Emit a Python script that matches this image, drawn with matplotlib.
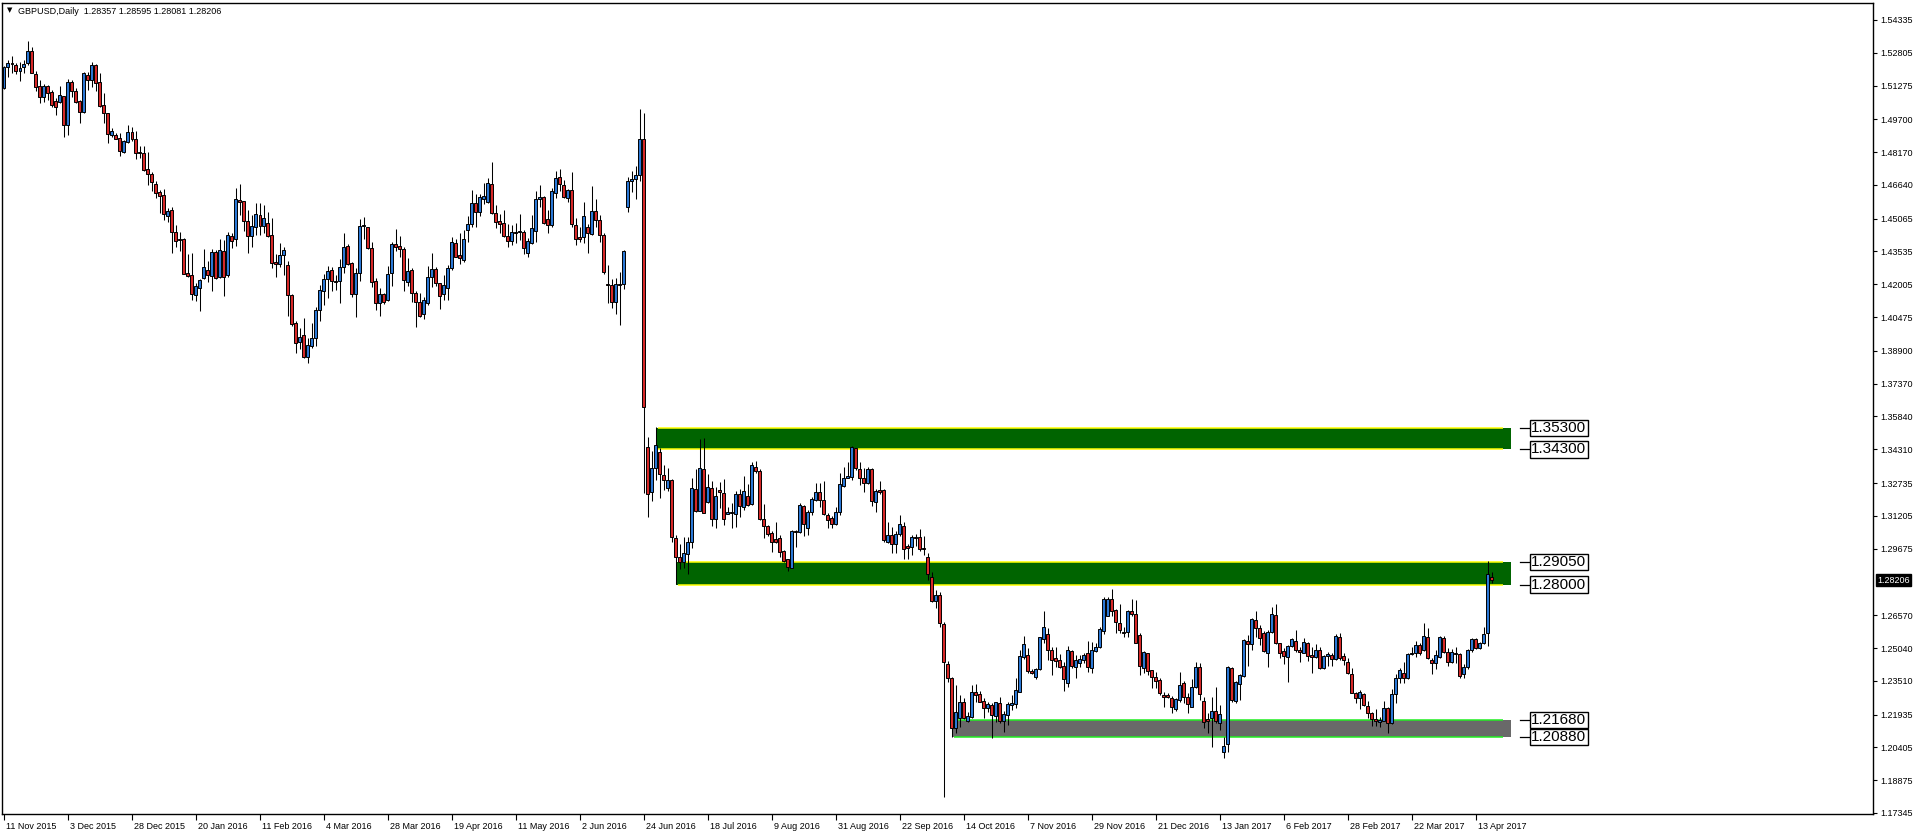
import numpy as np
import matplotlib.pyplot as plt
from matplotlib.patches import Rectangle
from matplotlib.transforms import ScaledTranslation, blended_transform_factory

plt.rcParams['font.family'] = ['Liberation Sans', 'DejaVu Sans']

# GBPUSD daily candles, 11 Nov 2015 .. 19 Apr 2017
opens = [
    1.5114, 1.5212, 1.5231, 1.5223, 1.5197, 1.5212, 1.5231, 1.5288, 1.5181, 1.5125,
    1.5075, 1.5125, 1.5097, 1.5055, 1.5052, 1.5078, 1.4945, 1.5144, 1.5102, 1.5057,
    1.5005, 1.5176, 1.5153, 1.5223, 1.5144, 1.5036, 1.4998, 1.4895, 1.4897, 1.4884,
    1.4819, 1.4865, 1.4909, 1.4878, 1.4816, 1.4811, 1.4736, 1.4715, 1.4668, 1.4632,
    1.4617, 1.4520, 1.4547, 1.4444, 1.4411, 1.4411, 1.4251, 1.4243, 1.4150, 1.4184,
    1.4228, 1.4267, 1.4239, 1.4351, 1.4233, 1.4355, 1.4243, 1.4425, 1.4410, 1.4593,
    1.4587, 1.4495, 1.4428, 1.4466, 1.4523, 1.4474, 1.4488, 1.4430, 1.4304, 1.4293,
    1.4337, 1.4290, 1.4150, 1.4018, 1.3932, 1.3964, 1.3860, 1.3914, 1.3948, 1.4080,
    1.4171, 1.4223, 1.4265, 1.4214, 1.4214, 1.4279, 1.4379, 1.4301, 1.4153, 1.4251,
    1.4472, 1.4466, 1.4368, 1.4216, 1.4115, 1.4155, 1.4127, 1.4255, 1.4388, 1.4379,
    1.4363, 1.4213, 1.4267, 1.4158, 1.4119, 1.4060, 1.4115, 1.4236, 1.4272, 1.4205,
    1.4153, 1.4185, 1.4275, 1.4391, 1.4337, 1.4314, 1.4454, 1.4480, 1.4578, 1.4539,
    1.4597, 1.4586, 1.4667, 1.4531, 1.4496, 1.4485, 1.4427, 1.4404, 1.4443, 1.4444,
    1.4444, 1.4348, 1.4391, 1.4450, 1.4597, 1.4606, 1.4503, 1.4477, 1.4628, 1.4699,
    1.4664, 1.4601, 1.4640, 1.4477, 1.4422, 1.4422, 1.4469, 1.4435, 1.4542, 1.4500,
    1.4430, 1.4200, 1.4195, 1.4120, 1.4200, 1.4200, 1.4560, 1.4680, 1.4690, 1.4710,
    1.4880, 1.3440, 1.3230, 1.3342, 1.3417, 1.3311, 1.3249, 1.3288, 1.3015, 1.2927,
    1.2904, 1.2943, 1.2997, 1.3244, 1.3145, 1.3337, 1.3187, 1.3249, 1.3107, 1.3241,
    1.3225, 1.3129, 1.3140, 1.3127, 1.3221, 1.3163, 1.3215, 1.3176, 1.3347, 1.3330,
    1.3106, 1.3073, 1.3039, 1.3013, 1.3019, 1.2958, 1.2917, 1.2879, 1.3050, 1.3044,
    1.3166, 1.3062, 1.3140, 1.3194, 1.3230, 1.3194, 1.3124, 1.3109, 1.3081, 1.3140,
    1.3260, 1.3298, 1.3303, 1.3436, 1.3339, 1.3295, 1.3272, 1.3337, 1.3184, 1.3241,
    1.3241, 1.3000, 1.3031, 1.2988, 1.3034, 1.3073, 1.2980, 1.2974, 1.3020, 1.3020,
    1.2969, 1.2927, 1.2833, 1.2725, 1.2749, 1.2616, 1.2428, 1.2366, 1.2129, 1.2176,
    1.2254, 1.2163, 1.2180, 1.2297, 1.2289, 1.2257, 1.2223, 1.2238, 1.2187, 1.2246,
    1.2163, 1.2191, 1.2238, 1.2241, 1.2300, 1.2460, 1.2471, 1.2396, 1.2367, 1.2404,
    1.2544, 1.2568, 1.2494, 1.2456, 1.2448, 1.2420, 1.2342, 1.2491, 1.2417, 1.2436,
    1.2448, 1.2479, 1.2412, 1.2491, 1.2507, 1.2585, 1.2655, 1.2731, 1.2681, 1.2619,
    1.2577, 1.2580, 1.2678, 1.2663, 1.2565, 1.2412, 1.2479, 1.2401, 1.2370, 1.2355,
    1.2285, 1.2285, 1.2269, 1.2218, 1.2261, 1.2343, 1.2276, 1.2230, 1.2320, 1.2414,
    1.2257, 1.2175, 1.2176, 1.2212, 1.2156, 1.2020, 1.2055, 1.2409, 1.2258, 1.2334,
    1.2373, 1.2536, 1.2521, 1.2634, 1.2596, 1.2575, 1.2479, 1.2577, 1.2658, 1.2526,
    1.2490, 1.2463, 1.2515, 1.2536, 1.2494, 1.2482, 1.2526, 1.2471, 1.2460, 1.2494,
    1.2409, 1.2467, 1.2471, 1.2451, 1.2554, 1.2468, 1.2437, 1.2381, 1.2292, 1.2269,
    1.2288, 1.2233, 1.2202, 1.2171, 1.2157, 1.2165, 1.2222, 1.2153, 1.2288, 1.2362,
    1.2386, 1.2362, 1.2476, 1.2479, 1.2518, 1.2494, 1.2554, 1.2448, 1.2432, 1.2460,
    1.2549, 1.2487, 1.2440, 1.2482, 1.2476, 1.2383, 1.2414, 1.2494, 1.2544, 1.2505,
    1.2529, 1.2572, 1.28357,
]
highs = [
    1.5218, 1.5246, 1.5265, 1.5234, 1.5239, 1.5246, 1.5335, 1.5305, 1.5195, 1.5153,
    1.5134, 1.5130, 1.5106, 1.5068, 1.5125, 1.5078, 1.5156, 1.5153, 1.5114, 1.5060,
    1.5192, 1.5192, 1.5235, 1.5228, 1.5184, 1.5094, 1.5001, 1.4928, 1.4904, 1.4904,
    1.4873, 1.4943, 1.4932, 1.4915, 1.4845, 1.4845, 1.4817, 1.4725, 1.4683, 1.4640,
    1.4645, 1.4555, 1.4559, 1.4477, 1.4446, 1.4415, 1.4341, 1.4345, 1.4205, 1.4223,
    1.4363, 1.4310, 1.4363, 1.4360, 1.4410, 1.4407, 1.4446, 1.4438, 1.4648, 1.4668,
    1.4590, 1.4547, 1.4523, 1.4578, 1.4578, 1.4570, 1.4539, 1.4512, 1.4341, 1.4391,
    1.4373, 1.4310, 1.4155, 1.4031, 1.3995, 1.4041, 1.3948, 1.4018, 1.4096, 1.4197,
    1.4248, 1.4286, 1.4279, 1.4244, 1.4318, 1.4438, 1.4388, 1.4306, 1.4275, 1.4503,
    1.4513, 1.4469, 1.4396, 1.4228, 1.4183, 1.4161, 1.4286, 1.4399, 1.4458, 1.4426,
    1.4373, 1.4321, 1.4275, 1.4171, 1.4158, 1.4139, 1.4286, 1.4345, 1.4279, 1.4208,
    1.4244, 1.4290, 1.4419, 1.4410, 1.4438, 1.4454, 1.4519, 1.4640, 1.4622, 1.4622,
    1.4674, 1.4695, 1.4769, 1.4570, 1.4528, 1.4547, 1.4481, 1.4477, 1.4485, 1.4527,
    1.4454, 1.4415, 1.4523, 1.4635, 1.4664, 1.4612, 1.4547, 1.4648, 1.4730, 1.4738,
    1.4687, 1.4645, 1.4726, 1.4508, 1.4469, 1.4586, 1.4481, 1.4659, 1.4600, 1.4525,
    1.4440, 1.4290, 1.4225, 1.4230, 1.4260, 1.4360, 1.4700, 1.4730, 1.4750, 1.5018,
    1.5000, 1.3487, 1.3423, 1.3533, 1.3436, 1.3358, 1.3342, 1.3291, 1.3031, 1.2989,
    1.3020, 1.3023, 1.3296, 1.3337, 1.3479, 1.3485, 1.3316, 1.3283, 1.3253, 1.3280,
    1.3292, 1.3163, 1.3182, 1.3236, 1.3244, 1.3306, 1.3267, 1.3370, 1.3376, 1.3338,
    1.3176, 1.3078, 1.3051, 1.3093, 1.3031, 1.2961, 1.2920, 1.3055, 1.3055, 1.3179,
    1.3171, 1.3148, 1.3210, 1.3272, 1.3272, 1.3285, 1.3132, 1.3120, 1.3160, 1.3319,
    1.3350, 1.3373, 1.3446, 1.3439, 1.3373, 1.3342, 1.3350, 1.3342, 1.3244, 1.3285,
    1.3244, 1.3093, 1.3067, 1.3050, 1.3124, 1.3093, 1.2989, 1.3031, 1.3036, 1.3058,
    1.3026, 1.2949, 1.2860, 1.2774, 1.2767, 1.2627, 1.2445, 1.2370, 1.2331, 1.2285,
    1.2269, 1.2207, 1.2331, 1.2334, 1.2305, 1.2269, 1.2254, 1.2249, 1.2254, 1.2277,
    1.2210, 1.2254, 1.2285, 1.2362, 1.2497, 1.2560, 1.2502, 1.2404, 1.2409, 1.2554,
    1.2677, 1.2599, 1.2507, 1.2507, 1.2476, 1.2440, 1.2513, 1.2497, 1.2471, 1.2471,
    1.2479, 1.2536, 1.2533, 1.2529, 1.2603, 1.2743, 1.2743, 1.2778, 1.2684, 1.2709,
    1.2600, 1.2681, 1.2731, 1.2728, 1.2572, 1.2490, 1.2482, 1.2401, 1.2393, 1.2362,
    1.2297, 1.2296, 1.2280, 1.2269, 1.2393, 1.2351, 1.2295, 1.2358, 1.2440, 1.2436,
    1.2277, 1.2199, 1.2277, 1.2320, 1.2238, 1.2090, 1.2420, 1.2417, 1.2351, 1.2383,
    1.2544, 1.2564, 1.2645, 1.2678, 1.2611, 1.2583, 1.2588, 1.2694, 1.2709, 1.2529,
    1.2502, 1.2518, 1.2552, 1.2588, 1.2507, 1.2549, 1.2533, 1.2510, 1.2525, 1.2510,
    1.2471, 1.2487, 1.2482, 1.2568, 1.2575, 1.2479, 1.2456, 1.2409, 1.2300, 1.2308,
    1.2295, 1.2258, 1.2207, 1.2218, 1.2184, 1.2258, 1.2227, 1.2313, 1.2383, 1.2409,
    1.2437, 1.2482, 1.2510, 1.2538, 1.2526, 1.2619, 1.2596, 1.2456, 1.2494, 1.2562,
    1.2562, 1.2502, 1.2498, 1.2510, 1.2482, 1.2429, 1.2498, 1.2549, 1.2552, 1.2533,
    1.2603, 1.2911, 1.28595,
]
lows = [
    1.5111, 1.5169, 1.5184, 1.5181, 1.5150, 1.5184, 1.5223, 1.5184, 1.5103, 1.5047,
    1.5052, 1.5060, 1.5029, 1.4990, 1.5047, 1.4889, 1.4897, 1.5075, 1.5044, 1.4954,
    1.5001, 1.5106, 1.5122, 1.5103, 1.5026, 1.4954, 1.4861, 1.4886, 1.4876, 1.4800,
    1.4814, 1.4861, 1.4870, 1.4783, 1.4788, 1.4730, 1.4663, 1.4637, 1.4601, 1.4531,
    1.4500, 1.4492, 1.4348, 1.4376, 1.4357, 1.4248, 1.4236, 1.4127, 1.4124, 1.4077,
    1.4223, 1.4212, 1.4170, 1.4225, 1.4228, 1.4146, 1.4236, 1.4368, 1.4379, 1.4523,
    1.4450, 1.4348, 1.4376, 1.4430, 1.4430, 1.4438, 1.4422, 1.4275, 1.4233, 1.4282,
    1.4243, 1.4052, 1.4005, 1.3878, 1.3901, 1.3855, 1.3835, 1.3902, 1.3914, 1.4031,
    1.4104, 1.4135, 1.4171, 1.4174, 1.4115, 1.4251, 1.4290, 1.4139, 1.4049, 1.4217,
    1.4410, 1.4363, 1.4189, 1.4080, 1.4052, 1.4108, 1.4124, 1.4192, 1.4357, 1.4326,
    1.4171, 1.4192, 1.4119, 1.4003, 1.4046, 1.4038, 1.4104, 1.4189, 1.4192, 1.4085,
    1.4127, 1.4127, 1.4267, 1.4326, 1.4295, 1.4306, 1.4399, 1.4469, 1.4469, 1.4519,
    1.4575, 1.4581, 1.4527, 1.4461, 1.4441, 1.4422, 1.4373, 1.4384, 1.4391, 1.4407,
    1.4342, 1.4329, 1.4388, 1.4399, 1.4559, 1.4481, 1.4441, 1.4469, 1.4601, 1.4637,
    1.4601, 1.4586, 1.4466, 1.4384, 1.4399, 1.4395, 1.4348, 1.4430, 1.4470, 1.4400,
    1.4250, 1.4115, 1.4090, 1.4060, 1.4010, 1.4180, 1.4540, 1.4630, 1.4600, 1.4680,
    1.3229, 1.3117, 1.3191, 1.3288, 1.3205, 1.3241, 1.3238, 1.3000, 1.2802, 1.2871,
    1.2876, 1.2849, 1.2972, 1.3137, 1.3145, 1.3132, 1.3180, 1.3073, 1.3065, 1.3155,
    1.3078, 1.3127, 1.3062, 1.3070, 1.3117, 1.3148, 1.3166, 1.3171, 1.3322, 1.3101,
    1.3019, 1.3028, 1.2953, 1.2992, 1.2930, 1.2907, 1.2865, 1.2879, 1.2977, 1.3039,
    1.3026, 1.3031, 1.3124, 1.3191, 1.3163, 1.3124, 1.3062, 1.3062, 1.3078, 1.3124,
    1.3253, 1.3295, 1.3288, 1.3334, 1.3264, 1.3233, 1.3269, 1.3166, 1.3140, 1.3222,
    1.3000, 1.2995, 1.2949, 1.2945, 1.3028, 1.2918, 1.2918, 1.2938, 1.2980, 1.2957,
    1.2938, 1.2821, 1.2720, 1.2689, 1.2603, 1.1810, 1.2347, 1.2090, 1.2106, 1.2134,
    1.2171, 1.2160, 1.2176, 1.2254, 1.2254, 1.2176, 1.2207, 1.2086, 1.2160, 1.2156,
    1.2110, 1.2145, 1.2215, 1.2223, 1.2297, 1.2453, 1.2386, 1.2383, 1.2358, 1.2401,
    1.2526, 1.2448, 1.2378, 1.2417, 1.2409, 1.2305, 1.2320, 1.2409, 1.2362, 1.2417,
    1.2436, 1.2394, 1.2389, 1.2487, 1.2502, 1.2569, 1.2653, 1.2653, 1.2572, 1.2572,
    1.2554, 1.2557, 1.2653, 1.2529, 1.2378, 1.2386, 1.2378, 1.2316, 1.2316, 1.2285,
    1.2230, 1.2269, 1.2202, 1.2212, 1.2254, 1.2246, 1.2202, 1.2227, 1.2316, 1.2261,
    1.2129, 1.2109, 1.2041, 1.2156, 1.2121, 1.1989, 1.2020, 1.2253, 1.2249, 1.2261,
    1.2370, 1.2420, 1.2494, 1.2557, 1.2518, 1.2487, 1.2414, 1.2572, 1.2523, 1.2456,
    1.2428, 1.2347, 1.2510, 1.2487, 1.2440, 1.2479, 1.2445, 1.2386, 1.2456, 1.2404,
    1.2404, 1.2420, 1.2420, 1.2448, 1.2448, 1.2425, 1.2383, 1.2292, 1.2246, 1.2218,
    1.2233, 1.2176, 1.2140, 1.2140, 1.2134, 1.2163, 1.2109, 1.2150, 1.2246, 1.2339,
    1.2339, 1.2358, 1.2471, 1.2463, 1.2471, 1.2491, 1.2451, 1.2383, 1.2404, 1.2456,
    1.2482, 1.2420, 1.2436, 1.2432, 1.2362, 1.2362, 1.2404, 1.2487, 1.2498, 1.2498,
    1.2523, 1.2513, 1.28081,
]
closes = [
    1.5215, 1.5231, 1.5229, 1.5197, 1.5208, 1.5228, 1.5288, 1.5187, 1.5119, 1.5075,
    1.5125, 1.5094, 1.5036, 1.5029, 1.5083, 1.4945, 1.5144, 1.5103, 1.5052, 1.5005,
    1.5184, 1.5153, 1.5223, 1.5138, 1.5032, 1.4998, 1.4900, 1.4917, 1.4880, 1.4823,
    1.4869, 1.4909, 1.4876, 1.4814, 1.4814, 1.4733, 1.4713, 1.4676, 1.4628, 1.4614,
    1.4527, 1.4542, 1.4446, 1.4404, 1.4407, 1.4248, 1.4239, 1.4155, 1.4194, 1.4220,
    1.4279, 1.4243, 1.4351, 1.4228, 1.4360, 1.4236, 1.4430, 1.4404, 1.4596, 1.4586,
    1.4497, 1.4428, 1.4472, 1.4528, 1.4474, 1.4508, 1.4427, 1.4301, 1.4293, 1.4337,
    1.4360, 1.4149, 1.4013, 1.3928, 1.3956, 1.3863, 1.3917, 1.3948, 1.4080, 1.4174,
    1.4223, 1.4262, 1.4214, 1.4212, 1.4279, 1.4373, 1.4295, 1.4153, 1.4251, 1.4472,
    1.4475, 1.4368, 1.4213, 1.4115, 1.4155, 1.4119, 1.4248, 1.4388, 1.4376, 1.4363,
    1.4220, 1.4262, 1.4158, 1.4119, 1.4054, 1.4127, 1.4236, 1.4272, 1.4205, 1.4147,
    1.4197, 1.4275, 1.4396, 1.4329, 1.4321, 1.4410, 1.4480, 1.4578, 1.4539, 1.4606,
    1.4612, 1.4671, 1.4531, 1.4492, 1.4481, 1.4427, 1.4404, 1.4443, 1.4441, 1.4450,
    1.4368, 1.4401, 1.4461, 1.4598, 1.4606, 1.4488, 1.4477, 1.4635, 1.4695, 1.4667,
    1.4609, 1.4640, 1.4480, 1.4410, 1.4410, 1.4519, 1.4438, 1.4542, 1.4500, 1.4430,
    1.4258, 1.4195, 1.4120, 1.4200, 1.4195, 1.4355, 1.4680, 1.4690, 1.4710, 1.4880,
    1.3630, 1.3221, 1.3342, 1.3449, 1.3314, 1.3286, 1.3288, 1.3023, 1.2930, 1.2907,
    1.2946, 1.2997, 1.3249, 1.3145, 1.3342, 1.3132, 1.3253, 1.3107, 1.3213, 1.3230,
    1.3104, 1.3140, 1.3135, 1.3221, 1.3166, 1.3236, 1.3171, 1.3356, 1.3328, 1.3106,
    1.3073, 1.3036, 1.3000, 1.3000, 1.2953, 1.2911, 1.2883, 1.3050, 1.3044, 1.3171,
    1.3082, 1.3137, 1.3199, 1.3230, 1.3194, 1.3129, 1.3101, 1.3081, 1.3137, 1.3267,
    1.3295, 1.3306, 1.3443, 1.3342, 1.3295, 1.3272, 1.3337, 1.3191, 1.3236, 1.3233,
    1.3008, 1.3031, 1.2988, 1.3034, 1.3081, 1.2964, 1.2969, 1.3020, 1.3018, 1.2964,
    1.2964, 1.2848, 1.2723, 1.2751, 1.2619, 1.2440, 1.2362, 1.2129, 1.2207, 1.2254,
    1.2176, 1.2187, 1.2297, 1.2285, 1.2254, 1.2226, 1.2243, 1.2191, 1.2250, 1.2165,
    1.2196, 1.2241, 1.2246, 1.2308, 1.2466, 1.2523, 1.2398, 1.2386, 1.2404, 1.2554,
    1.2600, 1.2497, 1.2448, 1.2445, 1.2417, 1.2358, 1.2494, 1.2421, 1.2448, 1.2451,
    1.2471, 1.2417, 1.2494, 1.2510, 1.2591, 1.2731, 1.2733, 1.2678, 1.2627, 1.2588,
    1.2572, 1.2677, 1.2663, 1.2529, 1.2421, 1.2484, 1.2397, 1.2367, 1.2351, 1.2292,
    1.2277, 1.2274, 1.2230, 1.2264, 1.2331, 1.2276, 1.2241, 1.2323, 1.2417, 1.2288,
    1.2160, 1.2165, 1.2212, 1.2165, 1.2194, 1.2047, 1.2414, 1.2261, 1.2344, 1.2378,
    1.2541, 1.2521, 1.2639, 1.2596, 1.2549, 1.2491, 1.2580, 1.2663, 1.2529, 1.2482,
    1.2468, 1.2513, 1.2546, 1.2494, 1.2487, 1.2530, 1.2468, 1.2463, 1.2494, 1.2409,
    1.2467, 1.2476, 1.2451, 1.2560, 1.2456, 1.2448, 1.2386, 1.2296, 1.2269, 1.2300,
    1.2238, 1.2202, 1.2171, 1.2165, 1.2168, 1.2222, 1.2156, 1.2288, 1.2362, 1.2401,
    1.2362, 1.2476, 1.2482, 1.2518, 1.2479, 1.2560, 1.2456, 1.2435, 1.2471, 1.2557,
    1.2487, 1.2440, 1.2487, 1.2476, 1.2373, 1.2417, 1.2494, 1.2544, 1.2502, 1.2526,
    1.2569, 1.2848, 1.28206,
]

date_labels = ['11 Nov 2015', '3 Dec 2015', '28 Dec 2015', '20 Jan 2016', '11 Feb 2016',
               '4 Mar 2016', '28 Mar 2016', '19 Apr 2016', '11 May 2016', '2 Jun 2016',
               '24 Jun 2016', '18 Jul 2016', '9 Aug 2016', '31 Aug 2016', '22 Sep 2016',
               '14 Oct 2016', '7 Nov 2016', '29 Nov 2016', '21 Dec 2016', '13 Jan 2017',
               '6 Feb 2017', '28 Feb 2017', '22 Mar 2017', '13 Apr 2017']
price_labels = ['1.54335', '1.52805', '1.51275', '1.49700', '1.48170', '1.46640', '1.45065',
                '1.43535', '1.42005', '1.40475', '1.38900', '1.37370', '1.35840', '1.34310',
                '1.32735', '1.31205', '1.29675', '1.26570', '1.25040', '1.23510', '1.21935',
                '1.20405', '1.18875', '1.17345']
last_price = 1.28206

# drawn zones: (low, high, first bar)
zone_low = [1.3430, 1.2800, 1.2088]
zone_high = [1.3530, 1.2905, 1.2168]
zone_start = [163, 168, 237]
zone_fill = ['#006400', '#006400', '#696969']
zone_edge = ['#ffff00', '#ffff00', '#22ee22']
zone_end = 376.8

W, H = 1916, 836
fig = plt.figure(figsize=(W / 100, H / 100), dpi=100)
ax = fig.add_axes([2 / W, 1 - 814 / H, 1871 / W, 811 / H])

x = np.arange(len(closes))
o, hi, lo, c = map(np.array, (opens, highs, lows, closes))
colors = np.where(c >= o, '#2b78d6', '#d62828')

for zl, zh, zs, zf, ze in zip(zone_low, zone_high, zone_start, zone_fill, zone_edge):
    ax.add_patch(Rectangle((zs, zl), zone_end - zs, zh - zl, fc=zf, ec='none', zorder=1))
    ax.hlines([zl, zh], zs + 0.5, zone_end - 2, colors=ze, lw=1.1, zorder=2)
    for p in (zh, zl):
        ax.plot([379.1, 381.7], [p, p], color='black', lw=0.9, zorder=5)
        ax.text(381.9, p, f'{p:.5f}', ha='left', va='center', fontsize=11, color='black',
                zorder=6, bbox=dict(boxstyle='square,pad=0.08', fc='white', ec='black', lw=1))

ax.vlines(x, lo, hi, color='black', lw=0.75, zorder=3)
ax.bar(x, c - o, bottom=o, width=0.55, color=colors, edgecolor='black', linewidth=0.7, zorder=4)

ax.set_xlim(-0.4, 467.35)
ax.set_ylim(1.17298, 1.55125)

ax.yaxis.tick_right()
ax.set_yticks([float(v) for v in price_labels])
ax.set_yticklabels(price_labels, fontsize=6.5)
ax.tick_params(axis='y', length=3, width=0.8, pad=2)

ax.set_xticks(np.arange(len(date_labels)) * 16)
ax.set_xticklabels(date_labels, fontsize=6.5, ha='left')
ax.tick_params(axis='x', length=4, width=0.8, pad=2)
shift = ScaledTranslation(2 / 100, 0, fig.dpi_scale_trans)
for lab in ax.get_xticklabels():
    lab.set_transform(lab.get_transform() + shift)

for sp in ax.spines.values():
    sp.set_color('black')
    sp.set_linewidth(1)

tr = blended_transform_factory(ax.transAxes, ax.transData)
ax.text(1.0, last_price, f'{last_price:.5f}', transform=tr + ScaledTranslation(4 / 100, 0, fig.dpi_scale_trans),
        ha='left', va='center', fontsize=6.5, color='white', clip_on=False,
        bbox=dict(boxstyle='square,pad=0.15', fc='black', ec='black'))

fig.text(6.5 / W, 1 - 10.5 / H, '▼', fontsize=5, va='center', family=['DejaVu Sans'])
fig.text(18 / W, 1 - 11 / H, 'GBPUSD,Daily  1.28357 1.28595 1.28081 1.28206', fontsize=6.5, va='center')

fig.savefig('out.png', dpi=100)
